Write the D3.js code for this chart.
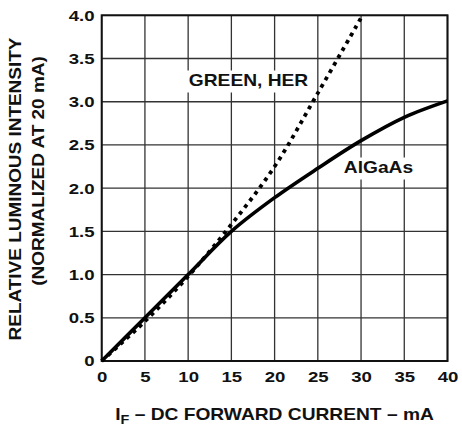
<!DOCTYPE html>
<html>
<head>
<meta charset="utf-8">
<script src="https://cdn.jsdelivr.net/npm/d3@7"></script>
<style>
  body { margin: 0; background: #fff; }
  svg text { font-family: "Liberation Sans", Arial, Helvetica, sans-serif; font-weight: bold; fill: #111; }
</style>
</head>
<body>
<div id="chart"></div>
<script>
// values
const currents = [0, 5, 10, 15, 20, 25, 30, 35, 40];
const algaas = [0, 0.5, 1.0, 1.5, 1.89, 2.23, 2.55, 2.82, 3.01];
const greenCurrents = [0, 5, 10, 15, 20, 25, 30];
const greenHer = [0, 0.46, 0.98, 1.58, 2.25, 3.1, 3.97];
const xTicks = [0, 5, 10, 15, 20, 25, 30, 35, 40];
const yTicks = [0, 0.5, 1.0, 1.5, 2.0, 2.5, 3.0, 3.5, 4.0];
const yTickLabels = ["0", "0.5", "1.0", "1.5", "2.0", "2.5", "3.0", "3.5", "4.0"];

const W = 462, H = 430;
const margin = { top: 15.3, right: 14.5, bottom: 69, left: 101.7 };
const width = W - margin.left - margin.right;
const height = H - margin.top - margin.bottom;
const sx = 1.2; // the lettering in the reference is wider than Arial

const svg = d3.select("#chart").append("svg")
    .attr("width", W)
    .attr("height", H);

const g = svg.append("g")
    .attr("transform", "translate(" + margin.left + "," + margin.top + ")");

const x = d3.scaleLinear().domain([0, 40]).range([0, width]);
const y = d3.scaleLinear().domain([0, 4]).range([height, 0]);

// grid
g.selectAll(".vgrid").data(xTicks).enter().append("line")
    .attr("x1", d => x(d)).attr("x2", d => x(d))
    .attr("y1", 0).attr("y2", height)
    .attr("stroke", "#333").attr("stroke-width", 1.3);
g.selectAll(".hgrid").data(yTicks).enter().append("line")
    .attr("x1", 0).attr("x2", width)
    .attr("y1", d => y(d)).attr("y2", d => y(d))
    .attr("stroke", "#333").attr("stroke-width", 1.3);

// axes
let xAxis = g.append("g")
    .attr("transform", "translate(0," + height + ")")
    .call(d3.axisBottom(x).tickValues(xTicks).tickSize(0).tickPadding(10).tickFormat(d3.format("d")));
let yAxis = g.append("g")
    .call(d3.axisLeft(y).tickValues(yTicks).tickSize(0).tickPadding(6)
        .tickFormat((d, i) => yTickLabels[i]));

[xAxis, yAxis].forEach(a => {
    a.select(".domain").remove();
    a.selectAll("text")
        .attr("font-size", 15.5)
        .attr("font-family", null)
        .attr("fill", "#111")
        .attr("transform", "scale(" + sx + ",1)");
});

// frame
g.append("rect")
    .attr("x", 0).attr("y", 0)
    .attr("width", width).attr("height", height)
    .attr("fill", "none").attr("stroke", "#111").attr("stroke-width", 2);

// curves
let line = d3.line()
    .x(d => x(d[0]))
    .y(d => y(d[1]))
    .curve(d3.curveCatmullRom);

g.append("path")
    .datum(greenCurrents.map((c, i) => [c, greenHer[i]]))
    .attr("d", line)
    .attr("fill", "none")
    .attr("stroke", "#000")
    .attr("stroke-width", 3.8)
    .attr("stroke-dasharray", "3.8,4.6");

g.append("path")
    .datum(currents.map((c, i) => [c, algaas[i]]))
    .attr("d", line)
    .attr("fill", "none")
    .attr("stroke", "#000")
    .attr("stroke-width", 3.6);

// curve labels on white boxes
function curveLabel(txt, cx, by, w) {
    g.append("rect")
        .attr("x", cx - w / 2 - margin.left - 3)
        .attr("y", by - margin.top - 15)
        .attr("width", w + 6).attr("height", 22)
        .attr("fill", "#fff");
    g.append("text")
        .attr("transform", "translate(" + (cx - margin.left) + "," + (by - margin.top) + ") scale(" + sx + ",1)")
        .attr("text-anchor", "middle")
        .attr("font-size", 16)
        .text(txt);
}
curveLabel("GREEN, HER", 248.5, 85.5, 124);
curveLabel("AlGaAs", 378.5, 172.5, 70);

// axis titles
let xt = svg.append("text")
    .attr("transform", "translate(274.5,420) scale(" + sx + ",1)")
    .attr("text-anchor", "middle")
    .attr("font-size", 16);
xt.append("tspan").text("I");
xt.append("tspan").attr("font-size", 12).attr("dy", 4).text("F");
xt.append("tspan").attr("dy", -4).text(" \u2013 DC FORWARD CURRENT \u2013 mA");

svg.append("text")
    .attr("transform", "translate(20.5,189) rotate(-90) scale(" + sx + ",1)")
    .attr("text-anchor", "middle")
    .attr("font-size", 15.8)
    .text("RELATIVE LUMINOUS INTENSITY");
svg.append("text")
    .attr("transform", "translate(44,171) rotate(-90) scale(" + sx + ",1)")
    .attr("text-anchor", "middle")
    .attr("font-size", 15.8)
    .text("(NORMALIZED AT 20 mA)");
</script>
</body>
</html>
